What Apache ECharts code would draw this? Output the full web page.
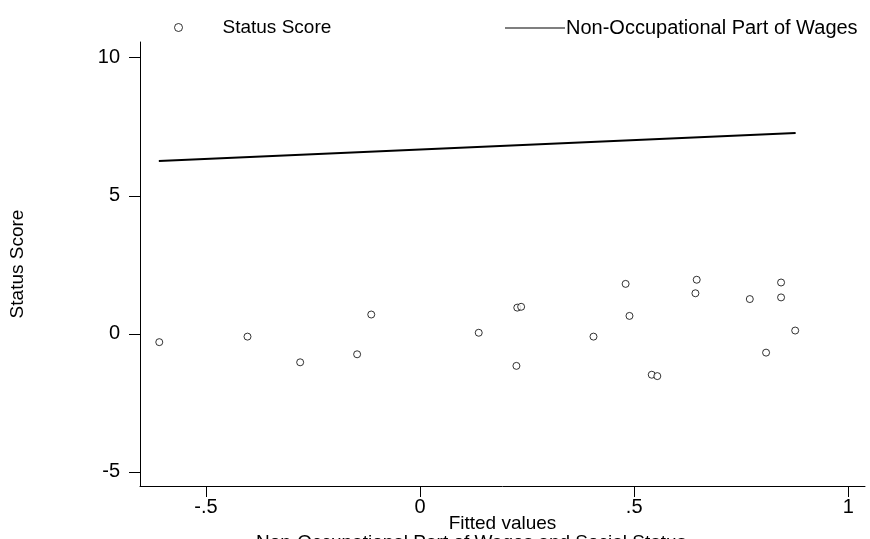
<!DOCTYPE html>
<html>
<head>
<meta charset="utf-8">
<script src="https://cdn.jsdelivr.net/npm/echarts@6/dist/echarts.min.js"></script>
<style>
html,body{margin:0;padding:0;background:#fff;}
#chart{width:870px;height:539px;}
</style>
</head>
<body>
<div id="chart"></div>
<script>
// Data
const fittedX = [-0.609, -0.403, -0.280, -0.147, -0.114, 0.137, 0.227, 0.236, 0.225, 0.405, 0.480, 0.489, 0.541, 0.554, 0.646, 0.643, 0.770, 0.843, 0.843, 0.876, 0.808];
const statusScore = [-0.30, -0.10, -1.03, -0.74, 0.70, 0.04, 0.95, 0.98, -1.16, -0.10, 1.81, 0.65, -1.48, -1.53, 1.96, 1.47, 1.26, 1.86, 1.32, 0.12, -0.68];
const lineX = [-0.610, 0.877];
const lineY = [6.26, 7.27];
const xTicks = [-0.5, 0, 0.5, 1];
const xTickLabels = ['-.5', '0', '.5', '1'];
const yTicks = [-5, 0, 5, 10];
const yTickLabels = ['-5', '0', '5', '10'];
const seriesNames = ['Status Score', 'Non-Occupational Part of Wages'];
const xTitle = 'Fitted values';
const yTitle = 'Status Score';
const chartTitle = 'Non-Occupational Part of Wages and Social Status';

const FONT = '"Liberation Sans", Arial, sans-serif';
const chart = echarts.init(document.getElementById('chart'), null, {renderer: 'canvas'});

const scatterData = fittedX.map((x, i) => [x, statusScore[i]]);
const lineData = lineX.map((x, i) => [x, lineY[i]]);

chart.setOption({
  backgroundColor: '#fff',
  animation: false,
  textStyle: {fontFamily: FONT, color: '#000'},
  title: {
    text: chartTitle,
    left: 256,
    top: 533,
    padding: 0,
    textStyle: {fontFamily: FONT, fontSize: 19, fontWeight: 'normal', color: '#000'}
  },
  legend: [
    {
      data: [seriesNames[0]],
      left: 174, top: 18,
      padding: 0,
      itemWidth: 8, itemHeight: 8,
      icon: 'circle',
      itemStyle: {color: '#fff', borderColor: '#000', borderWidth: 1},
      textStyle: {fontFamily: FONT, fontSize: 19, color: '#000', padding: [0, 0, 0, 35]}
    },
    {
      data: [seriesNames[1]],
      left: 505, top: 18,
      padding: 0,
      itemWidth: 60, itemHeight: 1.2,
      icon: 'rect',
      itemStyle: {color: '#000', borderWidth: 0},
      textStyle: {fontFamily: FONT, fontSize: 20, color: '#000', padding: [0, 0, 0, -4]}
    }
  ],
  grid: {left: 140, right: 5, top: 42, bottom: 53, containLabel: false, outerBoundsMode: 'none'},
  xAxis: {
    type: 'value',
    min: -0.654, max: 1.039,
    name: xTitle, nameLocation: 'middle', nameGap: 28, nameMoveOverlap: false,
    nameTextStyle: {fontFamily: FONT, fontSize: 19, color: '#000'},
    axisLine: {onZero: false, lineStyle: {color: '#000', width: 1}},
    axisTick: {show: true, length: 11, customValues: xTicks, lineStyle: {color: '#000'}},
    axisLabel: {
      customValues: xTicks, margin: 11, fontFamily: FONT, fontSize: 20, color: '#000',
      formatter: v => xTickLabels[xTicks.findIndex(t => Math.abs(t - v) < 1e-9)] ?? ''
    },
    splitLine: {show: false}
  },
  yAxis: {
    type: 'value',
    min: -5.51, max: 10.57,
    name: yTitle, nameLocation: 'middle', nameGap: 113, nameRotate: 90, nameMoveOverlap: false,
    nameTextStyle: {fontFamily: FONT, fontSize: 19, color: '#000'},
    axisLine: {onZero: false, lineStyle: {color: '#000', width: 1}},
    axisTick: {show: true, length: 11, customValues: yTicks, lineStyle: {color: '#000'}},
    axisLabel: {
      customValues: yTicks, margin: 20, fontFamily: FONT, fontSize: 20, color: '#000',
      formatter: v => yTickLabels[yTicks.findIndex(t => Math.abs(t - v) < 1e-9)] ?? ''
    },
    splitLine: {show: false}
  },
  series: [
    {
      name: seriesNames[0],
      type: 'scatter',
      data: scatterData,
      symbol: 'circle',
      symbolSize: 7,
      itemStyle: {color: '#fff', borderColor: '#000', borderWidth: 1}
    },
    {
      name: seriesNames[1],
      type: 'line',
      data: lineData,
      showSymbol: false,
      symbol: 'none',
      lineStyle: {color: '#000', width: 2},
      itemStyle: {color: '#000'}
    }
  ]
});
</script>
</body>
</html>
